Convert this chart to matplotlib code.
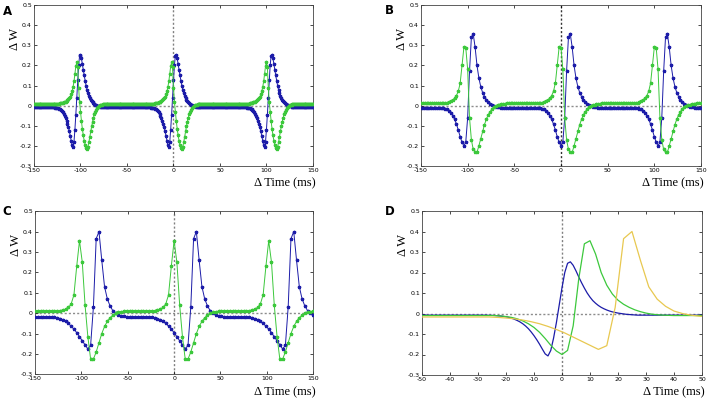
import numpy as np
import matplotlib
matplotlib.use("Agg")
import matplotlib.pyplot as plt

# one period of every curve
# panel A: 1 ms sampling, blue period 103 ms (starts at -51), green period 102 ms (starts at -50)
a_step = 1
a_blue_t0 = -51
a_blue = ([-0.008] * 25 +
          [-0.009, -0.009, -0.010, -0.011, -0.012, -0.014, -0.016, -0.019, -0.023,
           -0.028, -0.034, -0.041, -0.050, -0.061, -0.074, -0.090, -0.108, -0.128,
           -0.150, -0.174, -0.197, -0.207, -0.180, -0.120, -0.045, 0.040,
           0.125, 0.200, 0.245, 0.252, 0.235, 0.208, 0.178, 0.150, 0.124, 0.100,
           0.080, 0.063, 0.050, 0.039, 0.030, 0.023, 0.017, 0.012, 0.008, 0.005,
           0.002, 0.000, -0.002, -0.004, -0.005, -0.006, -0.007] +
          [-0.008] * 25)
a_green_t0 = -50
a_green = ([0.007] * 26 +
           [0.008, 0.008, 0.009, 0.010, 0.011, 0.012, 0.013, 0.014, 0.016, 0.018,
            0.020, 0.023, 0.026, 0.031, 0.037, 0.045, 0.056, 0.072, 0.093, 0.120,
            0.158, 0.195, 0.215, 0.190,
            0.090, 0.020, -0.030, -0.075, -0.115, -0.148, -0.175, -0.195, -0.210,
            -0.216, -0.205, -0.182, -0.155, -0.128, -0.103, -0.080, -0.060, -0.044,
            -0.031, -0.021, -0.013, -0.007, -0.002, 0.001, 0.003, 0.005, 0.006] +
           [0.007] * 25)

# panel B: 2 ms sampling, blue period 104 ms, green period 102 ms
b_step = 2
b_blue_t0 = -50
b_blue = ([-0.010] * 14 +
          [-0.012, -0.015, -0.019, -0.026, -0.036, -0.050, -0.068, -0.092, -0.122,
           -0.155, -0.183, -0.200, -0.180, -0.060, 0.170, 0.340, 0.355, 0.290,
           0.200, 0.138, 0.095, 0.065, 0.045, 0.030, 0.018, 0.009, 0.002, -0.003,
           -0.006, -0.008, -0.009] +
          [-0.010] * 7)
b_green_t0 = -50
b_green = ([0.011] * 13 +
           [0.012, 0.013, 0.015, 0.018, 0.022, 0.028, 0.036, 0.050, 0.072, 0.112,
            0.200, 0.290, 0.288, 0.180, -0.060, -0.170, -0.218, -0.232, -0.232,
            -0.200, -0.165, -0.128, -0.095, -0.068, -0.046, -0.030, -0.018, -0.009,
            -0.003, 0.002, 0.005, 0.007, 0.009, 0.010] +
           [0.011] * 4)

# panel C: 3 ms sampling, blue period 105 ms, green period 102 ms
c_step = 3
c_blue_t0 = -51
c_blue = ([-0.017] * 9 +
          [-0.019, -0.022, -0.026, -0.032, -0.040, -0.050, -0.063, -0.078, -0.095,
           -0.115, -0.135, -0.155, -0.175, -0.157, 0.030, 0.365, 0.400, 0.260,
           0.130, 0.070, 0.035, 0.012, 0.000, -0.008, -0.013, -0.016])
c_green_t0 = -51
c_green = ([0.010] * 9 +
           [0.012, 0.013, 0.016, 0.020, 0.028, 0.045, 0.090, 0.230, 0.355, 0.250,
            0.040, -0.115, -0.225, -0.225, -0.190, -0.145, -0.100, -0.065, -0.040,
            -0.022, -0.010, -0.001, 0.005, 0.008, 0.010])

blue = '#1c1ca8'
green = '#3cc83c'
yellow = '#e8c850'

x_ticks_wide = [-150, -100, -50, 0, 50, 100, 150]
x_ticks_narrow = [-50, -40, -30, -20, -10, 0, 10, 20, 30, 40, 50]
y_ticks = [-0.3, -0.2, -0.1, 0, 0.1, 0.2, 0.3, 0.4, 0.5]
y_tick_labels = ['-0.3', '-0.2', '-0.1', '0', '0.1', '0.2', '0.3', '0.4', '0.5']

serif = ['Liberation Serif', 'DejaVu Serif']


def periodic(values, t0, step, tmin, tmax):
    x = np.arange(tmin, tmax + step, step)
    idx = ((x - t0) // step) % len(values)
    return x, np.asarray(values)[idx]


def style(ax, xticks, xlim, vcolor='0.5'):
    ax.set_xlim(xlim)
    ax.set_ylim(-0.3, 0.5)
    ax.set_xticks(xticks)
    ax.set_xticklabels([str(t) for t in xticks])
    ax.set_yticks(y_ticks)
    ax.set_yticklabels(y_tick_labels)
    ax.tick_params(direction='in', length=2.5, width=0.5, labelsize=4.5,
                   top=True, right=True, pad=1.5)
    for s in ax.spines.values():
        s.set_linewidth(0.6)
        s.set_color('#444444')
    ax.axhline(0, color='0.55', ls=(0, (1.5, 1.5)), lw=1.0, zorder=1)
    ax.axvline(0, color=vcolor, ls=(0, (1.5, 1.5)), lw=1.0, zorder=1)
    ax.set_ylabel('Δ W', family=serif, fontsize=9)
    ax.yaxis.set_label_coords(-0.045, 0.79)
    ax.set_xlabel('Δ Time (ms)', family=serif, fontsize=9, ha='right')
    ax.xaxis.set_label_coords(1.01, -0.07)


fig = plt.figure(figsize=(7.08, 4.0), dpi=100)
axA = fig.add_axes([0.048, 0.585, 0.394, 0.4025])
axB = fig.add_axes([0.5946, 0.585, 0.3955, 0.4025])
axC = fig.add_axes([0.0494, 0.064, 0.393, 0.408])
axD = fig.add_axes([0.596, 0.0625, 0.3955, 0.41])

panels = [
    (axA, a_step, (a_blue, a_blue_t0), (a_green, a_green_t0), '0.5'),
    (axB, b_step, (b_blue, b_blue_t0), (b_green, b_green_t0), '0.2'),
    (axC, c_step, (c_blue, c_blue_t0), (c_green, c_green_t0), '0.5'),
]
for ax, step, (bv, bt0), (gv, gt0), vc in panels:
    xb, yb = periodic(bv, bt0, step, -150, 150)
    xg, yg = periodic(gv, gt0, step, -150, 150)
    ax.plot(xb, yb, color=blue, lw=0.7, marker='*', ms=2.4, zorder=3)
    ax.plot(xg, yg, color=green, lw=0.7, marker='*', ms=2.4, zorder=3)
    style(ax, x_ticks_wide, (-150, 150), vc)

# panel D: one period of the blue curve of A, B and C
for vals, t0, step, col in [(a_blue, a_blue_t0, a_step, blue),
                            (b_blue, b_blue_t0, b_step, green),
                            (c_blue, c_blue_t0, c_step, yellow)]:
    xd, yd = periodic(vals, t0, step, -50, 50)
    axD.plot(xd, yd, color=col, lw=0.9, zorder=3)
style(axD, x_ticks_narrow, (-50, 50))

for label, x, y in [('A', 0.004, 0.972), ('B', 0.543, 0.975),
                    ('C', 0.004, 0.472), ('D', 0.543, 0.472)]:
    fig.text(x, y, label, fontsize=8.5, fontweight='bold', ha='left', va='center')

fig.savefig('out.png', dpi=100)
